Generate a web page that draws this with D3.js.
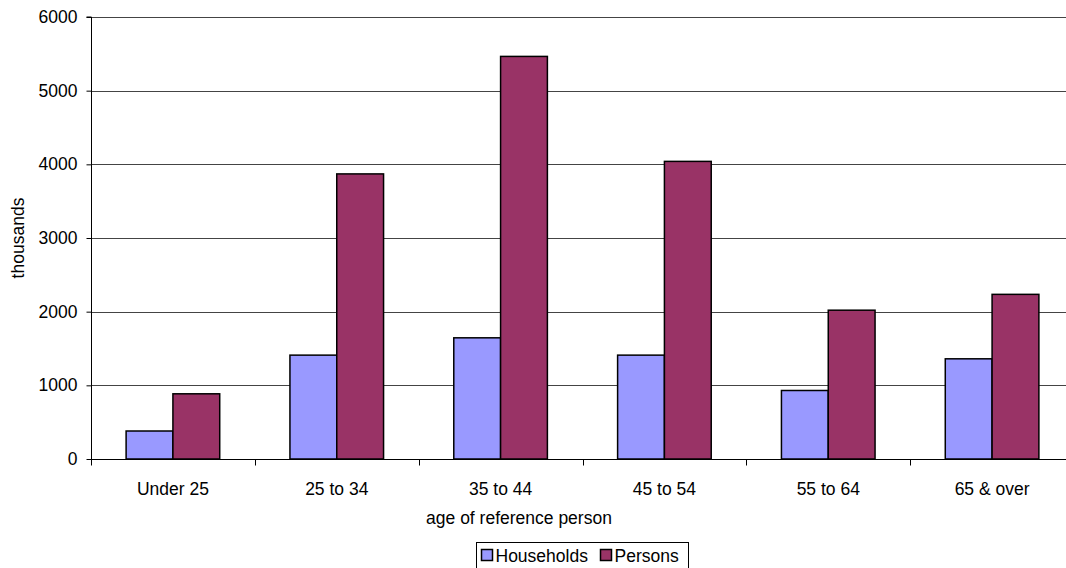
<!DOCTYPE html>
<html>
<head>
<meta charset="utf-8">
<script src="https://cdn.jsdelivr.net/npm/d3@7"></script>
<style>
  html, body { margin: 0; padding: 0; background: #fff; }
  svg { display: block; font-family: "Liberation Sans", Arial, sans-serif; }
</style>
</head>
<body>
<svg id="chart" width="1066" height="568"></svg>
<script>
// Age groups of the household reference person
const categories = ["Under 25", "25 to 34", "35 to 44", "45 to 54", "55 to 64", "65 & over"];
// Counts in thousands
const households = [380, 1410, 1645, 1410, 930, 1360];
const persons = [885, 3870, 5465, 4040, 2020, 2235];
const seriesNames = ["Households", "Persons"];
const seriesColors = ["#9999ff", "#993366"];
const yTicks = [0, 1000, 2000, 3000, 4000, 5000, 6000];

const svg = d3.select("#chart");
const plotLeft = 91, plotRight = 1074, plotTop = 17, plotBottom = 459;
const fs = 17.5;

const x = d3.scaleBand().domain(categories).range([plotLeft, plotRight]).paddingInner(0).paddingOuter(0);
const y = d3.scaleLinear().domain([0, 6000]).range([plotBottom, plotTop]);

// Gridlines
svg.append("g").selectAll("line").data(yTicks.filter(d => d > 0)).join("line")
  .attr("x1", plotLeft).attr("x2", plotRight)
  .attr("y1", d => Math.round(y(d)) + 0.5).attr("y2", d => Math.round(y(d)) + 0.5)
  .attr("stroke", "#444").attr("stroke-width", 1);

// Bars: two per group, Excel-style 150% gap width
const barW = x.bandwidth() / 3.5;
const rows = categories.map((c, i) => ({ c, vals: [households[i], persons[i]] }));
const groups = svg.append("g").selectAll("g").data(rows).join("g")
  .attr("transform", d => `translate(${x(d.c) + x.bandwidth() / 2 - barW},0)`);
groups.selectAll("rect").data(d => d.vals.map((v, k) => ({ v, k }))).join("rect")
  .attr("x", d => d.k * barW)
  .attr("y", d => y(d.v))
  .attr("width", barW)
  .attr("height", d => y(0) - y(d.v))
  .attr("fill", d => seriesColors[d.k])
  .attr("stroke", "#000").attr("stroke-width", 1.5);

// Y axis
const yAxis = svg.append("g").attr("transform", `translate(${plotLeft + 0.5},0)`)
  .call(d3.axisLeft(y).tickValues(yTicks).tickSize(5).tickPadding(9).tickFormat(d3.format("d")));
yAxis.select(".domain").attr("stroke", "#000").attr("d", `M-5,${plotTop}H0V${plotBottom}`);
yAxis.selectAll(".tick line").attr("stroke", "#000");
yAxis.selectAll("text").attr("font-size", fs).attr("fill", "#000")
  .attr("font-family", "Liberation Sans, Arial, sans-serif");

// X axis
const xAxis = svg.append("g").attr("transform", `translate(0,${plotBottom + 0.5})`);
xAxis.append("line").attr("x1", plotLeft).attr("x2", plotRight).attr("stroke", "#000");
const boundaries = categories.map(c => x(c)).concat([plotRight]);
xAxis.selectAll("line.t").data(boundaries).join("line").attr("class", "t")
  .attr("x1", d => Math.round(d) + 0.5).attr("x2", d => Math.round(d) + 0.5)
  .attr("y1", 0).attr("y2", 6).attr("stroke", "#000");
xAxis.selectAll("text").data(categories).join("text")
  .attr("x", d => x(d) + x.bandwidth() / 2).attr("y", 35)
  .attr("text-anchor", "middle").attr("font-size", fs).attr("fill", "#000")
  .text(d => d);

// Axis titles
svg.append("text").attr("x", 519).attr("y", 524)
  .attr("text-anchor", "middle").attr("font-size", fs).text("age of reference person");
svg.append("text").attr("transform", `translate(24,${(plotTop + plotBottom) / 2}) rotate(-90)`)
  .attr("text-anchor", "middle").attr("font-size", fs).text("thousands");

// Legend
const legend = svg.append("g").attr("transform", "translate(476.5,542.5)");
legend.append("rect").attr("width", 212).attr("height", 26).attr("fill", "#fff").attr("stroke", "#000");
const itemX = [5, 124];
seriesNames.forEach((name, i) => {
  const g = legend.append("g").attr("transform", `translate(${itemX[i]},7)`);
  g.append("rect").attr("width", 11).attr("height", 11)
    .attr("fill", seriesColors[i]).attr("stroke", "#000").attr("stroke-width", 1.5);
  g.append("text").attr("x", 14).attr("y", 12.5).attr("font-size", fs).text(name);
});
</script>
</body>
</html>
